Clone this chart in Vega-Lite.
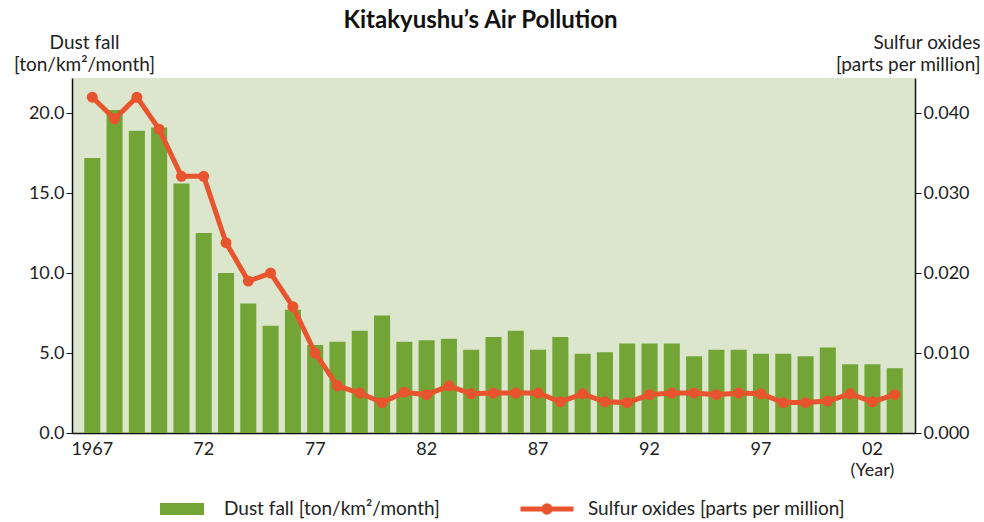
{
  "$schema": "https://vega.github.io/schema/vega-lite/v6.json",
  "width": 843,
  "height": 355,
  "autosize": "none",
  "padding": {"left": 72, "top": 78, "right": 69, "bottom": 89},
  "background": "white",
  "config": {
    "font": "Lato",
    "view": {"fill": "#dce6cc", "stroke": null},
    "axis": {"labelFont": "Lato", "titleFont": "Lato", "labelColor": "#222", "titleColor": "#222", "grid": false, "domainColor": "#111", "tickColor": "#111"},
    "legend": {"labelFont": "Lato", "labelColor": "#222", "labelLimit": 500}
  },
  "title": {"text": "Kitakyushu’s Air Pollution", "fontSize": 24, "fontWeight": "bold", "font": "Lato", "color": "#111", "dx": -13, "dy": 4, "anchor": "middle"},
  "data": {"values": [
    {"Year": 1967, "Dust": 17.2, "SOx": 0.0420},
    {"Year": 1968, "Dust": 20.2, "SOx": 0.0393},
    {"Year": 1969, "Dust": 18.9, "SOx": 0.0420},
    {"Year": 1970, "Dust": 19.1, "SOx": 0.0380},
    {"Year": 1971, "Dust": 15.6, "SOx": 0.0321},
    {"Year": 1972, "Dust": 12.5, "SOx": 0.0321},
    {"Year": 1973, "Dust": 10.0, "SOx": 0.0238},
    {"Year": 1974, "Dust": 8.1, "SOx": 0.0190},
    {"Year": 1975, "Dust": 6.7, "SOx": 0.0200},
    {"Year": 1976, "Dust": 7.7, "SOx": 0.0158},
    {"Year": 1977, "Dust": 5.5, "SOx": 0.0100},
    {"Year": 1978, "Dust": 5.7, "SOx": 0.0059},
    {"Year": 1979, "Dust": 6.4, "SOx": 0.0050},
    {"Year": 1980, "Dust": 7.35, "SOx": 0.0038},
    {"Year": 1981, "Dust": 5.7, "SOx": 0.0051},
    {"Year": 1982, "Dust": 5.8, "SOx": 0.0048},
    {"Year": 1983, "Dust": 5.9, "SOx": 0.0059},
    {"Year": 1984, "Dust": 5.2, "SOx": 0.0049},
    {"Year": 1985, "Dust": 6.0, "SOx": 0.0050},
    {"Year": 1986, "Dust": 6.4, "SOx": 0.0050},
    {"Year": 1987, "Dust": 5.2, "SOx": 0.0050},
    {"Year": 1988, "Dust": 6.0, "SOx": 0.0039},
    {"Year": 1989, "Dust": 4.95, "SOx": 0.0049},
    {"Year": 1990, "Dust": 5.05, "SOx": 0.0039},
    {"Year": 1991, "Dust": 5.6, "SOx": 0.0038},
    {"Year": 1992, "Dust": 5.6, "SOx": 0.0048},
    {"Year": 1993, "Dust": 5.6, "SOx": 0.0050},
    {"Year": 1994, "Dust": 4.8, "SOx": 0.0050},
    {"Year": 1995, "Dust": 5.2, "SOx": 0.0048},
    {"Year": 1996, "Dust": 5.2, "SOx": 0.0050},
    {"Year": 1997, "Dust": 4.95, "SOx": 0.0049},
    {"Year": 1998, "Dust": 4.95, "SOx": 0.0038},
    {"Year": 1999, "Dust": 4.8, "SOx": 0.0038},
    {"Year": 2000, "Dust": 5.35, "SOx": 0.0040},
    {"Year": 2001, "Dust": 4.3, "SOx": 0.0049},
    {"Year": 2002, "Dust": 4.3, "SOx": 0.0039},
    {"Year": 2003, "Dust": 4.05, "SOx": 0.0048}
  ]},
  "encoding": {
    "x": {
      "field": "Year", "type": "ordinal",
      "scale": {"paddingInner": 0.28, "paddingOuter": 0.55},
      "axis": {
        "title": null, "labelAngle": 0, "ticks": false, "domainWidth": 1.5,
        "values": [1967, 1972, 1977, 1982, 1987, 1992, 1997, 2002],
        "labelExpr": "datum.value == 1967 ? '1967' : (datum.value == 2002 ? ['02', '(Year)'] : slice(toString(datum.value), 2))",
        "labelFontSize": 18, "labelPadding": 7, "labelLineHeight": 21
      }
    }
  },
  "layer": [
    {
      "mark": {"type": "bar"},
      "encoding": {
        "y": {
          "field": "Dust", "type": "quantitative",
          "scale": {"domain": [0, 22.2], "nice": false},
          "axis": {
            "values": [0, 5, 10, 15, 20], "format": ".1f", "labelFontSize": 18, "tickSize": 6, "domainWidth": 1.5, "labelPadding": 2,
            "title": ["Dust fall", "[ton/km²/month]"], "titleAngle": 0, "titleAlign": "center", "titleBaseline": "bottom",
            "titleX": 12, "titleY": -26, "titleFontSize": 19, "titleFontWeight": "normal", "titleLineHeight": 22
          }
        },
        "fill": {
          "datum": "Dust fall [ton/km²/month]", "type": "nominal",
          "scale": {"range": ["#72a535"]},
          "legend": {
            "title": null, "orient": "none", "legendX": 88, "legendY": 409,
            "symbolType": "M-1,-0.27H1V0.27H-1Z", "symbolSize": 1936, "symbolStrokeWidth": 0,
            "labelFontSize": 19, "labelOffset": 20, "padding": 0, "labelLimit": 500
          }
        }
      }
    },
    {
      "mark": {"type": "line", "strokeWidth": 5},
      "encoding": {
        "y": {
          "field": "SOx", "type": "quantitative",
          "scale": {"domain": [0, 0.0444], "nice": false},
          "axis": {
            "orient": "right", "values": [0, 0.01, 0.02, 0.03, 0.04], "format": ".3f", "labelFontSize": 18, "tickSize": 6, "domainWidth": 1.5, "labelPadding": 2,
            "title": ["Sulfur oxides", "[parts per million]"], "titleAngle": 0, "titleAlign": "right", "titleBaseline": "bottom",
            "titleX": 65, "titleY": -26, "titleFontSize": 19, "titleFontWeight": "normal", "titleLineHeight": 22
          }
        },
        "stroke": {
          "datum": "Sulfur oxides [parts per million]", "type": "nominal",
          "scale": {"range": ["#e8542e"]},
          "legend": {
            "title": null, "orient": "none", "legendX": 446, "legendY": 402,
            "symbolType": "M-1,0H1M0.12,0A0.12,0.12 0 1,1 -0.12,0A0.12,0.12 0 1,1 0.12,0",
            "symbolSize": 2809, "symbolStrokeWidth": 5,
            "labelFontSize": 19, "labelOffset": 12, "padding": 0, "labelLimit": 500,
            "encode": {"symbols": {"update": {"fill": {"value": "#e8542e"}}}}
          }
        }
      }
    },
    {
      "mark": {"type": "circle", "color": "#e8542e", "opacity": 1, "size": 120},
      "encoding": {
        "y": {"field": "SOx", "type": "quantitative", "scale": {"domain": [0, 0.0444], "nice": false}, "axis": null}
      }
    }
  ],
  "resolve": {"scale": {"y": "independent"}}
}
